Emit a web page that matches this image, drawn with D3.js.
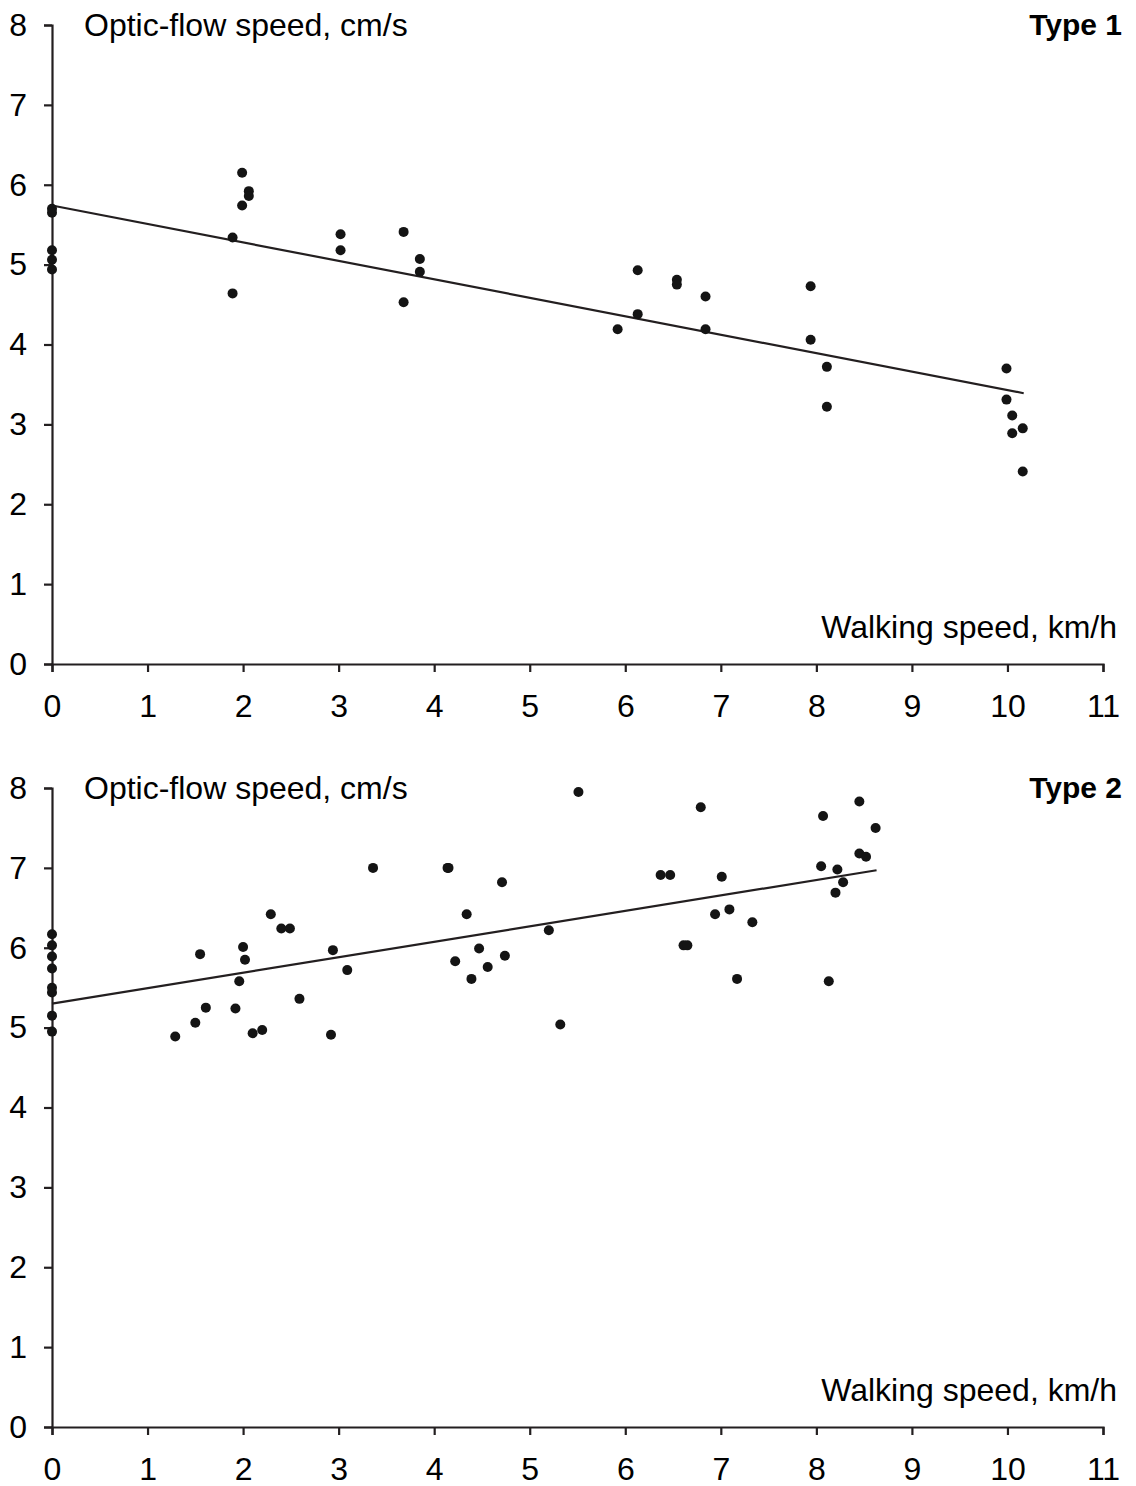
<!DOCTYPE html>
<html>
<head>
<meta charset="utf-8">
<script src="https://cdn.jsdelivr.net/npm/d3@7"></script>
<style>
  html, body { margin: 0; padding: 0; background: #fff; }
  svg { display: block; }
  text { font-family: "Liberation Sans", Arial, Helvetica, sans-serif; fill: #000; }
</style>
</head>
<body>
<svg id="chart" width="1136" height="1486"></svg>
<script>
// Type 1: walking speed (km/h) and optic-flow speed (cm/s)
const type1Walk = [0, 0, 0, 0, 0,
  1.89, 1.89, 1.99, 2.06, 2.06, 1.99,
  3.02, 3.02, 3.68, 3.68, 3.85, 3.85,
  5.92, 6.13, 6.13, 6.54, 6.54, 6.84, 6.84,
  7.94, 7.94, 8.11, 8.11,
  9.99, 9.99, 10.05, 10.05, 10.16, 10.16];
const type1Flow = [5.70, 5.65, 5.18, 5.06, 4.94,
  5.34, 4.64, 6.15, 5.92, 5.86, 5.74,
  5.38, 5.18, 5.41, 4.53, 5.07, 4.91,
  4.19, 4.93, 4.38, 4.81, 4.75, 4.60, 4.19,
  4.73, 4.06, 3.72, 3.22,
  3.70, 3.31, 3.11, 2.89, 2.95, 2.41];
// Fitted trend, endpoints [walk, flow]
const type1Trend = [[0, 5.74], [10.17, 3.39]];

// Type 2
const type2Walk = [0, 0, 0, 0, 0, 0, 0, 0,
  1.29, 1.50, 1.55, 1.61, 1.92, 1.96, 2.00, 2.02, 2.10, 2.20,
  2.29, 2.40, 2.49, 2.59, 2.92, 2.94, 3.09, 3.36,
  4.14, 4.15, 4.22, 4.34, 4.39, 4.47, 4.56, 4.71, 4.74,
  5.20, 5.32, 5.51,
  6.37, 6.47, 6.61, 6.65, 6.79, 6.94, 7.01, 7.09, 7.17, 7.33,
  8.05, 8.07, 8.13, 8.20, 8.22, 8.28, 8.45, 8.45, 8.52, 8.62];
const type2Flow = [6.17, 6.03, 5.89, 5.74, 5.50, 5.44, 5.15, 4.95,
  4.89, 5.06, 5.92, 5.25, 5.24, 5.58, 6.01, 5.85, 4.93, 4.97,
  6.42, 6.24, 6.24, 5.36, 4.91, 5.97, 5.72, 7.00,
  7.00, 7.00, 5.83, 6.42, 5.61, 5.99, 5.76, 6.82, 5.90,
  6.22, 5.04, 7.95,
  6.91, 6.91, 6.03, 6.03, 7.76, 6.42, 6.89, 6.48, 5.61, 6.32,
  7.02, 7.65, 5.58, 6.69, 6.98, 6.82, 7.83, 7.18, 7.14, 7.50];
const type2Trend = [[0, 5.30], [8.63, 6.97]];

const xTicks = [0, 1, 2, 3, 4, 5, 6, 7, 8, 9, 10, 11];
const yTicks = [0, 1, 2, 3, 4, 5, 6, 7, 8];
const yTitle = "Optic-flow speed, cm/s";
const xTitle = "Walking speed, km/h";

const panels = [
  { label: "Type 1", walk: type1Walk, flow: type1Flow, trend: type1Trend, top: 25, bottom: 664 },
  { label: "Type 2", walk: type2Walk, flow: type2Flow, trend: type2Trend, top: 788, bottom: 1427 }
];

const svg = d3.select("#chart");
const axisColor = "#231f20";
const fontSize = 32;

const x = d3.scaleLinear().domain([0, 11]).range([52, 1103]);

panels.forEach(p => {
  const y = d3.scaleLinear().domain([0, 8]).range([p.bottom, p.top]);
  const g = svg.append("g");

  // axes
  const yAxis = g.append("g")
    .attr("transform", `translate(${x(0)},0)`)
    .call(d3.axisLeft(y).tickValues(yTicks).tickFormat(d3.format("d"))
      .tickSize(8).tickSizeOuter(8).tickPadding(17));
  const xAxis = g.append("g")
    .attr("transform", `translate(0,${y(0)})`)
    .call(d3.axisBottom(x).tickValues(xTicks).tickFormat(d3.format("d"))
      .tickSize(8).tickSizeOuter(8).tickPadding(22));

  [yAxis, xAxis].forEach(a => {
    a.select(".domain").attr("stroke", axisColor).attr("stroke-width", 2.2);
    a.selectAll(".tick line").attr("stroke", axisColor).attr("stroke-width", 2.2);
    a.selectAll(".tick text")
      .attr("fill", "#000")
      .style("font-family", '"Liberation Sans", Arial, sans-serif')
      .style("font-size", fontSize + "px");
  });

  // titles
  g.append("text")
    .attr("x", 84).attr("y", y(8) + 11)
    .style("font-size", fontSize + "px")
    .text(yTitle);
  g.append("text")
    .attr("x", 1122).attr("y", y(8) + 10)
    .attr("text-anchor", "end")
    .style("font-size", "30px")
    .style("font-weight", "bold")
    .text(p.label);
  g.append("text")
    .attr("x", 1117).attr("y", y(0) - 26)
    .attr("text-anchor", "end")
    .style("font-size", fontSize + "px")
    .text(xTitle);

  // trend line
  g.append("path")
    .datum(p.trend)
    .attr("fill", "none")
    .attr("stroke", axisColor)
    .attr("stroke-width", 2.2)
    .attr("d", d3.line().x(d => x(d[0])).y(d => y(d[1])));

  // observations
  g.append("g").selectAll("circle")
    .data(p.walk.map((w, i) => [w, p.flow[i]]))
    .join("circle")
    .attr("cx", d => x(d[0]))
    .attr("cy", d => y(d[1]))
    .attr("r", 5)
    .attr("fill", "#141414");
});
</script>
</body>
</html>
